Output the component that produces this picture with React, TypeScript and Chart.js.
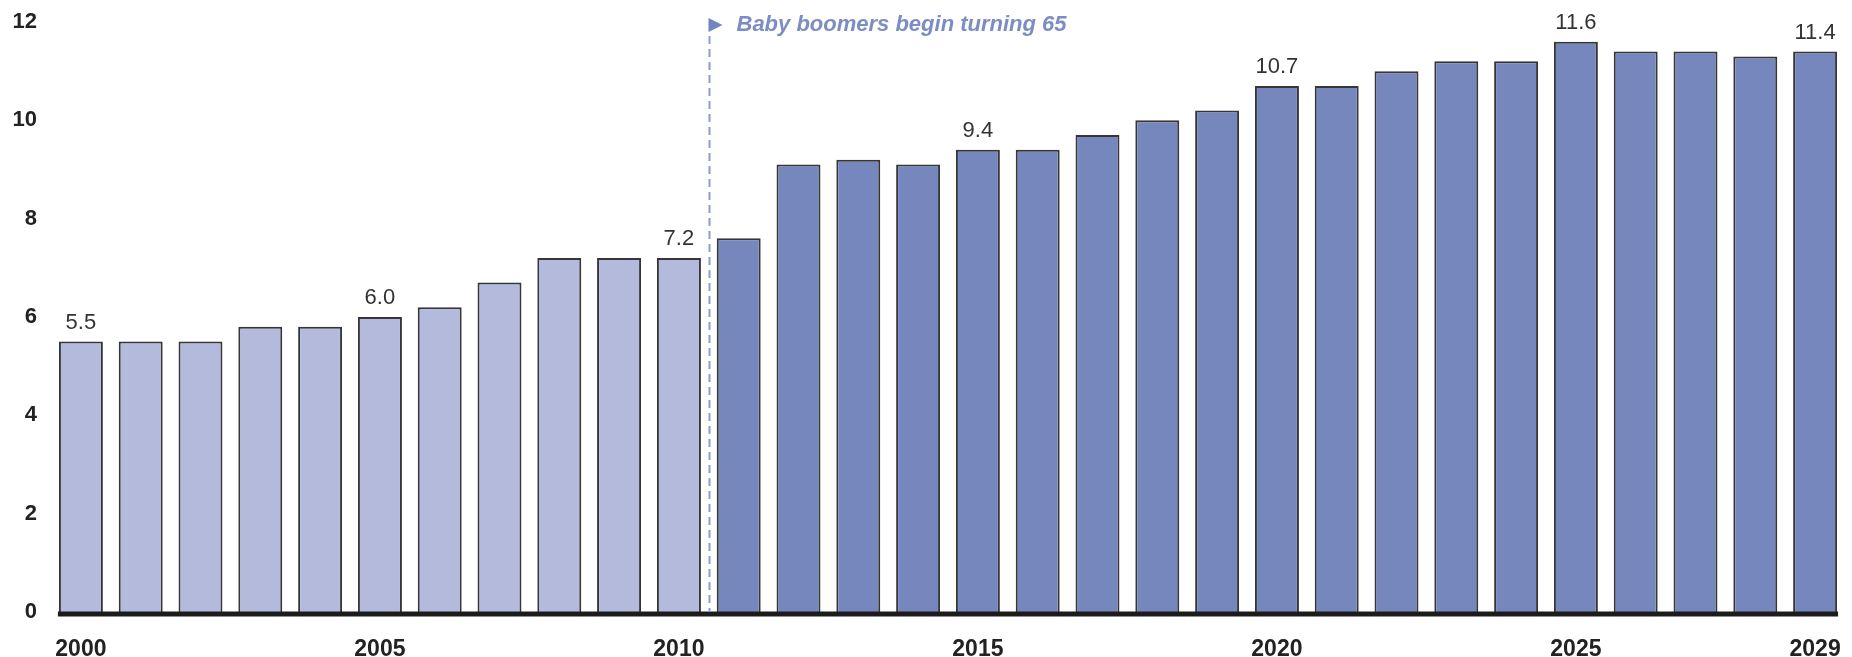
import React, { useEffect, useRef } from "react";
import { Chart, registerables } from "chart.js";

Chart.register(...registerables);

const years: string[] = [
  "2000", "2001", "2002", "2003", "2004", "2005", "2006", "2007", "2008", "2009",
  "2010", "2011", "2012", "2013", "2014", "2015", "2016", "2017", "2018", "2019",
  "2020", "2021", "2022", "2023", "2024", "2025", "2026", "2027", "2028", "2029",
];
const values: number[] = [
  5.5, 5.5, 5.5, 5.8, 5.8, 6.0, 6.2, 6.7, 7.2, 7.2,
  7.2, 7.6, 9.1, 9.2, 9.1, 9.4, 9.4, 9.7, 10.0, 10.2,
  10.7, 10.7, 11.0, 11.2, 11.2, 11.6, 11.4, 11.4, 11.3, 11.4,
];
const labeledYears: string[] = ["2000", "2005", "2010", "2015", "2020", "2025", "2029"];
const tickYears: string[] = ["2000", "2005", "2010", "2015", "2020", "2025", "2029"];
const yTicks: number[] = [0, 2, 4, 6, 8, 10, 12];
const markerAfterYear = "2010";
const markerText = "Baby boomers begin turning 65";

const LIGHT = "#b3badb";
const DARK = "#7587bd";
const FONT = "'Liberation Sans', Arial, sans-serif";

const overlayPlugin = {
  id: "overlay",
  afterDatasetsDraw(chart: any) {
    const ctx = chart.ctx;
    const meta = chart.getDatasetMeta(0);
    const yScale = chart.scales.y;
    const y0 = yScale.getPixelForValue(0);
    const bars = meta.data;
    // baseline
    const first = bars[0];
    const last = bars[bars.length - 1];
    ctx.save();
    ctx.fillStyle = "#1c1c1c";
    ctx.fillRect(first.x - first.width / 2 - 1, y0 - 0.5, last.x + last.width / 2 - (first.x - first.width / 2) + 2, 5);

    // value labels
    ctx.fillStyle = "#333333";
    ctx.font = `22px ${FONT}`;
    ctx.textAlign = "center";
    ctx.textBaseline = "alphabetic";
    years.forEach((yr, i) => {
      if (labeledYears.includes(yr)) {
        const b = bars[i];
        ctx.fillText(values[i].toFixed(1), b.x, b.y - 13);
      }
    });

    // marker
    const mi = years.indexOf(markerAfterYear);
    const mx = Math.round((bars[mi].x + bars[mi + 1].x) / 2) + 0.5;
    ctx.strokeStyle = "#8d9dc9";
    ctx.lineWidth = 2;
    ctx.setLineDash([8, 5]);
    ctx.beginPath();
    ctx.moveTo(mx, 36);
    ctx.lineTo(mx, y0);
    ctx.stroke();
    ctx.setLineDash([]);
    ctx.fillStyle = "#7086c2";
    ctx.beginPath();
    ctx.moveTo(mx - 1, 18);
    ctx.lineTo(mx + 13, 25);
    ctx.lineTo(mx - 1, 32);
    ctx.closePath();
    ctx.fill();
    ctx.fillStyle = "#7b8dc3";
    ctx.font = `italic bold 22px ${FONT}`;
    ctx.textAlign = "left";
    ctx.textBaseline = "middle";
    ctx.fillText(markerText, mx + 27, 25);
    ctx.restore();
  },
};

export default function App() {
  const ref = useRef<HTMLCanvasElement>(null);
  useEffect(() => {
    if (!ref.current) return;
    const chart = new Chart(ref.current, {
      type: "bar",
      data: {
        labels: years,
        datasets: [
          {
            data: values,
            backgroundColor: years.map((_, i) => (i <= years.indexOf(markerAfterYear) ? LIGHT : DARK)),
            borderColor: "#363636",
            borderWidth: 2,
            barPercentage: 0.735,
            categoryPercentage: 1,
          },
        ],
      },
      options: {
        responsive: false,
        animation: false,
        layout: { padding: { top: 22, right: 7, left: 0, bottom: 0 } },
        plugins: { legend: { display: false }, tooltip: { enabled: false } },
        scales: {
          x: {
            grid: { display: false, drawTicks: false },
            border: { display: false },
            ticks: {
              autoSkip: false,
              maxRotation: 0,
              padding: 24,
              color: "#222222",
              font: { family: FONT, size: 23, weight: "bold" },
              callback: (_v: any, i: number) => (tickYears.includes(years[i]) ? years[i] : ""),
            },
            afterFit: (s: any) => {
              s.height = 45;
              s.paddingLeft = 0;
              s.paddingRight = 0;
            },
          },
          y: {
            min: 0,
            max: 12,
            grid: { display: false, drawTicks: false },
            border: { display: false },
            afterBuildTicks: (s: any) => {
              s.ticks = yTicks.map((v) => ({ value: v }));
            },
            ticks: {
              padding: 14,
              color: "#222222",
              font: { family: FONT, size: 22, weight: "bold" },
            },
            afterFit: (s: any) => {
              s.width = 51;
              s.paddingTop = 0;
              s.paddingBottom = 0;
            },
          },
        },
      },
      plugins: [overlayPlugin],
    });
    return () => chart.destroy();
  }, []);
  return (
    <div style={{ position: "absolute", left: 0, top: 0, width: 1852, height: 657, background: "#fff" }}>
      <canvas ref={ref} width={1852} height={657} />
    </div>
  );
}
